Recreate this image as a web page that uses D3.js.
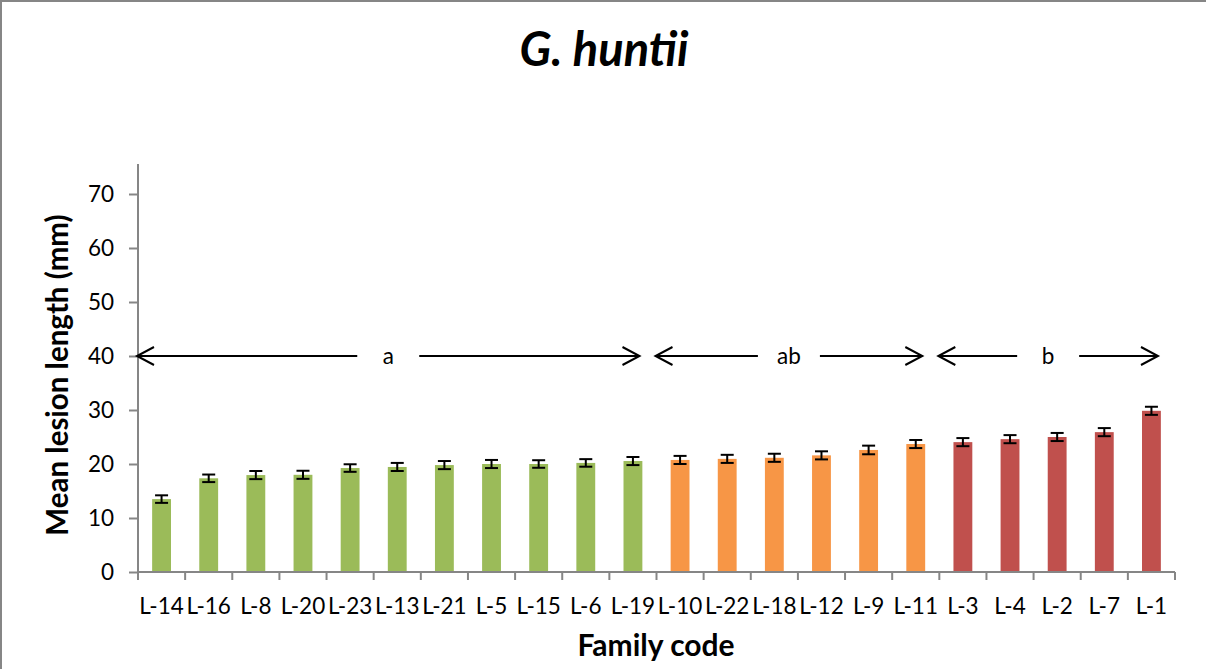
<!DOCTYPE html>
<html><head><meta charset="utf-8">
<script src="https://cdn.jsdelivr.net/npm/d3@7"></script>
<style>body{margin:0;background:#fff}svg{display:block}</style>
</head><body>
<svg id="c" width="1206" height="669"></svg>
<script>
const categories = ["L-14","L-16","L-8","L-20","L-23","L-13","L-21","L-5","L-15","L-6","L-19","L-10","L-22","L-18","L-12","L-9","L-11","L-3","L-4","L-2","L-7","L-1"];
const values = [13.5,17.35,17.95,18.0,19.25,19.45,19.8,20.0,20.0,20.2,20.55,20.75,20.95,21.15,21.6,22.6,23.7,24.05,24.6,25.0,25.9,29.85];
const errors = [0.7,0.7,0.75,0.75,0.7,0.75,0.75,0.75,0.7,0.7,0.75,0.75,0.75,0.75,0.75,0.8,0.75,0.75,0.75,0.75,0.75,0.75];
const groupOf = ["a","a","a","a","a","a","a","a","a","a","a","ab","ab","ab","ab","ab","ab","b","b","b","b","b"];
const groupColors = {a:"#9BBB59", ab:"#F79646", b:"#C0504D"};
const groups = [{label:"a", from:0, to:10},{label:"ab", from:11, to:16},{label:"b", from:17, to:21}];
const arrowLevel = 40;
const yTicks = [0,10,20,30,40,50,60,70];
const title = "G. huntii";
const xTitle = "Family code";
const yTitle = "Mean lesion length (mm)";

const svg = d3.select("#c");
const font = "Lato, 'Open Sans', sans-serif";
const L = 138, R = 1175, T = 194, B = 572;

// frame
svg.append("path").attr("d","M1,669 V1 H1206").attr("fill","none").attr("stroke","#868686").attr("stroke-width",2);

const x = d3.scaleBand().domain(categories).range([L,R]).padding(0);
const y = d3.scaleLinear().domain([0,70]).range([B,T]);

// bars
const bw = x.bandwidth()*0.4;
svg.append("g").selectAll("rect").data(categories).join("rect")
  .attr("x",(d)=>x(d)+x.bandwidth()/2-bw/2)
  .attr("width",bw)
  .attr("y",(d,i)=>y(values[i]))
  .attr("height",(d,i)=>y(0)-y(values[i]))
  .attr("fill",(d,i)=>groupColors[groupOf[i]]);

// error bars
const eg = svg.append("g").attr("stroke","#000").attr("stroke-width",2);
categories.forEach((d,i)=>{
  const cx = x(d)+x.bandwidth()/2;
  const y1 = y(values[i]+errors[i]), y2 = y(values[i]-errors[i]);
  eg.append("line").attr("x1",cx).attr("x2",cx).attr("y1",y1).attr("y2",y2);
  eg.append("line").attr("x1",cx-6.5).attr("x2",cx+6.5).attr("y1",y1).attr("y2",y1);
  eg.append("line").attr("x1",cx-6.5).attr("x2",cx+6.5).attr("y1",y2).attr("y2",y2);
});

// y axis
const ya = svg.append("g").attr("transform",`translate(${L},0)`)
  .call(d3.axisLeft(y).tickValues(yTicks).tickSize(9).tickPadding(15));
ya.select(".domain").attr("stroke","#868686").attr("stroke-width",2).attr("d",`M0,${B}V${T-30}`);
ya.selectAll(".tick line").attr("stroke","#868686").attr("stroke-width",2);
ya.selectAll("text").attr("font-family",font).attr("font-size",22.5).attr("fill","#000");

// x axis
const xa = svg.append("g").attr("transform",`translate(0,${B})`)
  .call(d3.axisBottom(x).tickSize(0).tickPadding(26));
xa.select(".domain").attr("stroke","#868686").attr("stroke-width",2).attr("d",`M${L},0H${R}`);
xa.selectAll("text").attr("font-family",font).attr("font-size",22.5).attr("fill","#000");
const bounds = categories.map(d=>x(d)).concat([R]);
svg.append("g").selectAll("line").data(bounds).join("line")
  .attr("x1",d=>d).attr("x2",d=>d).attr("y1",B).attr("y2",B+8)
  .attr("stroke","#868686").attr("stroke-width",2);

// group arrows
const ag = svg.append("g");
const ay = y(arrowLevel);
groups.forEach(g=>{
  const x0 = x(categories[g.from]) - 1;
  const x1 = x(categories[g.to]) + x.bandwidth() - 17;
  const mid = (x0+x1)/2;
  const gap = 31;
  ag.append("line").attr("x1",x0).attr("x2",mid-gap).attr("y1",ay).attr("y2",ay).attr("stroke","#000").attr("stroke-width",2);
  ag.append("line").attr("x1",mid+gap).attr("x2",x1).attr("y1",ay).attr("y2",ay).attr("stroke","#000").attr("stroke-width",2);
  ag.append("path").attr("d",`M${x0+17},${ay-9}L${x0},${ay}L${x0+17},${ay+9}`).attr("fill","none").attr("stroke","#000").attr("stroke-width",2);
  ag.append("path").attr("d",`M${x1-17},${ay-9}L${x1},${ay}L${x1-17},${ay+9}`).attr("fill","none").attr("stroke","#000").attr("stroke-width",2);
  ag.append("text").attr("x",mid).attr("y",ay+8).attr("text-anchor","middle")
    .attr("font-family",font).attr("font-size",22.5).text(g.label);
});

// titles
svg.append("text").attr("x",604).attr("y",66).attr("text-anchor","middle")
  .attr("font-family",font).attr("font-size",47).attr("font-weight","bold").attr("font-style","italic").text(title);
svg.append("text").attr("x",656).attr("y",656).attr("text-anchor","middle")
  .attr("font-family",font).attr("font-size",30).attr("font-weight","bold").text(xTitle);
svg.append("text").attr("transform","translate(68,375) rotate(-90)").attr("text-anchor","middle")
  .attr("font-family",font).attr("font-size",29.5).attr("font-weight","bold").text(yTitle);
</script>
</body></html>
